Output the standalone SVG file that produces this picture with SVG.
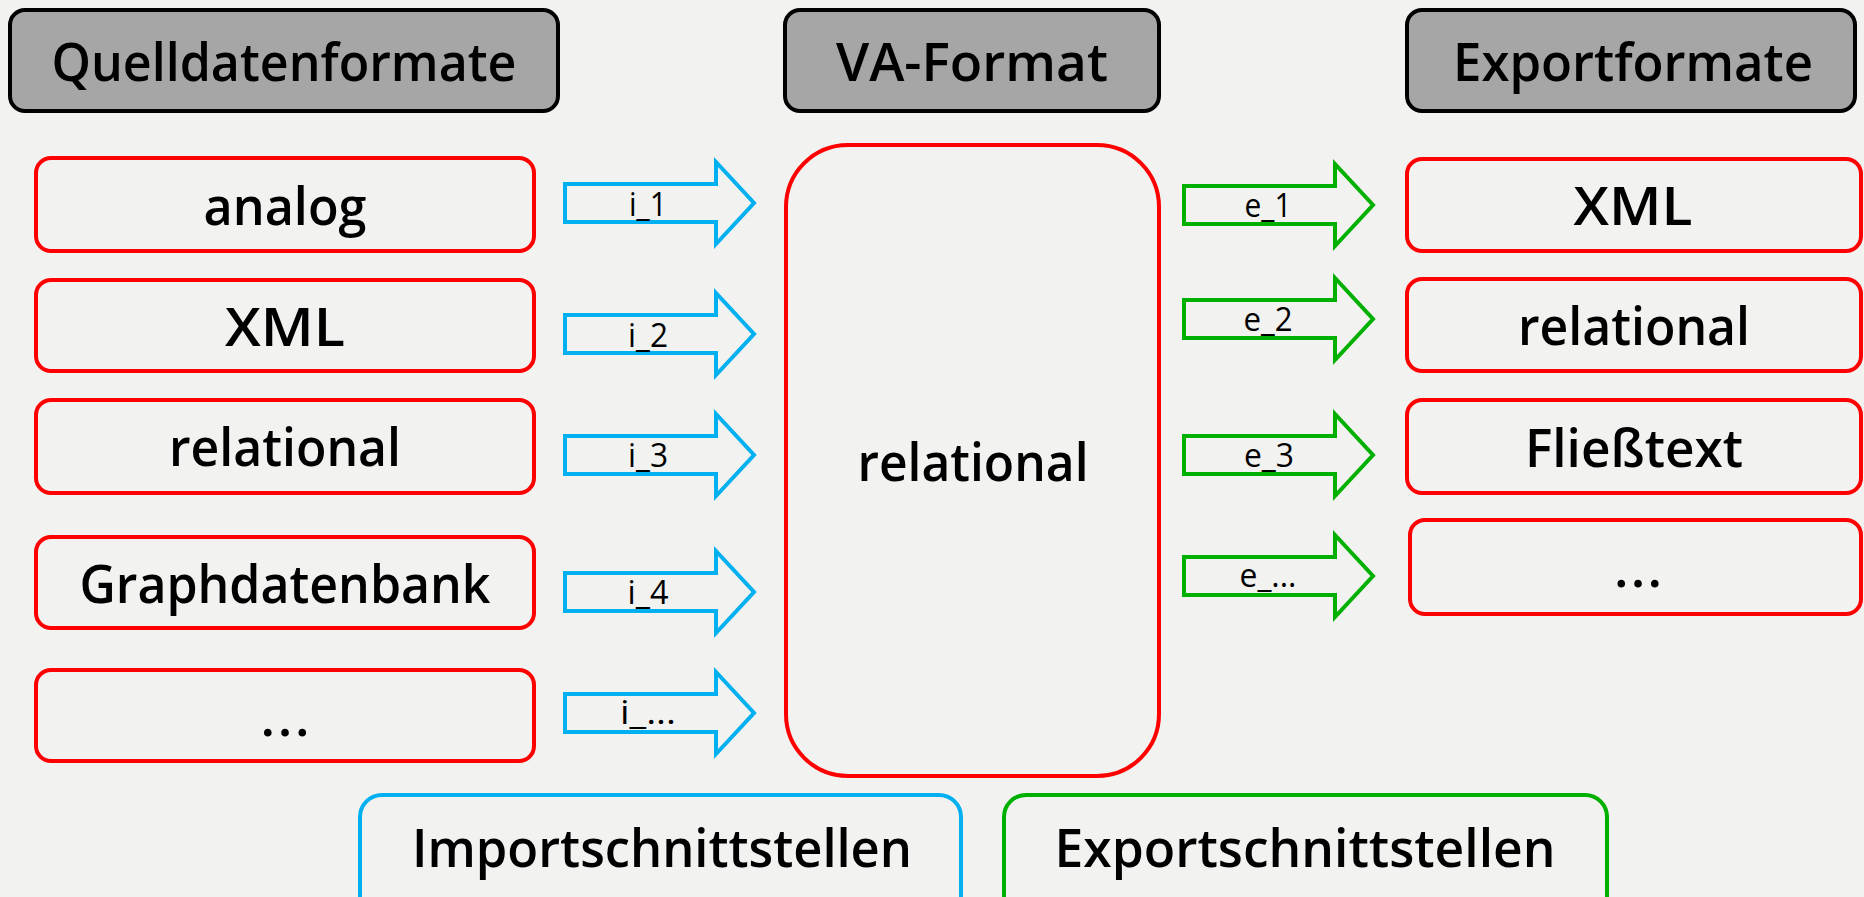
<svg xmlns="http://www.w3.org/2000/svg" width="1864" height="897" viewBox="0 0 1864 897">
  <defs>
    <style>
      .hdr { fill: #a6a6a6; stroke: #000000; stroke-width: 4; }
      .node { fill: #f2f2f0; stroke: #ff0000; stroke-width: 4; }
      .imp { fill: #f2f2f0; stroke: #00b0f0; stroke-width: 4; }
      .exp { fill: #f2f2f0; stroke: #00b000; stroke-width: 4; }
      .t { font-family: "Open Sans", "Noto Sans", "DejaVu Sans", sans-serif; font-weight: 600; font-size: 53px; fill: #000000; text-anchor: middle; }
      .lbl { font-family: "Open Sans", "Noto Sans", "DejaVu Sans", sans-serif; font-weight: 500; font-size: 33px; fill: #000000; text-anchor: middle; }
      .arrI { fill: none; stroke: #00b0f0; stroke-width: 4; }
      .arrE { fill: none; stroke: #00b000; stroke-width: 4; }
    </style>
    <path id="arrow" d="M0,-19 H151 V-41 L189,0 L151,41 V19 H0 Z"/>
  </defs>
  <rect x="0" y="0" width="1864" height="897" fill="#f2f2f0"/>

  <g id="hdr-quell">
    <rect class="hdr" x="10" y="10" width="548" height="101" rx="15"/>
    <text class="t" x="284" y="81" textLength="465" lengthAdjust="spacingAndGlyphs">Quelldatenformate</text>
  </g>
  <g id="hdr-va">
    <rect class="hdr" x="785" y="10" width="374" height="101" rx="15"/>
    <text class="t" x="972" y="81" textLength="272" lengthAdjust="spacingAndGlyphs">VA-Format</text>
  </g>
  <g id="hdr-export">
    <rect class="hdr" x="1407" y="10" width="448" height="101" rx="15"/>
    <text class="t" x="1633" y="81" textLength="360" lengthAdjust="spacingAndGlyphs">Exportformate</text>
  </g>

  <g id="src-analog">
    <rect class="node" x="36" y="158" width="498" height="93" rx="15"/>
    <text class="t" x="285" y="225" textLength="163" lengthAdjust="spacingAndGlyphs">analog</text>
  </g>
  <g id="src-xml">
    <rect class="node" x="36" y="280" width="498" height="91" rx="15"/>
    <text class="t" x="285" y="346" textLength="120" lengthAdjust="spacingAndGlyphs">XML</text>
  </g>
  <g id="src-relational">
    <rect class="node" x="36" y="400" width="498" height="93" rx="15"/>
    <text class="t" x="285" y="466" textLength="232" lengthAdjust="spacingAndGlyphs">relational</text>
  </g>
  <g id="src-graph">
    <rect class="node" x="36" y="537" width="498" height="91" rx="15"/>
    <text class="t" x="285" y="603" textLength="411" lengthAdjust="spacingAndGlyphs">Graphdatenbank</text>
  </g>
  <g id="src-more">
    <rect class="node" x="36" y="670" width="498" height="91" rx="15"/>
    <text class="t" x="285" y="736" textLength="49" lengthAdjust="spacing">...</text>
  </g>

  <g id="va-relational">
    <rect class="node" x="786" y="145" width="373" height="631" rx="62"/>
    <text class="t" x="973" y="481" textLength="231" lengthAdjust="spacingAndGlyphs">relational</text>
  </g>

  <g id="exp-xml">
    <rect class="node" x="1407" y="159" width="454" height="92" rx="15"/>
    <text class="t" x="1633" y="225" textLength="119" lengthAdjust="spacingAndGlyphs">XML</text>
  </g>
  <g id="exp-relational">
    <rect class="node" x="1407" y="279" width="454" height="92" rx="15"/>
    <text class="t" x="1634" y="345" textLength="232" lengthAdjust="spacingAndGlyphs">relational</text>
  </g>
  <g id="exp-fliesstext">
    <rect class="node" x="1407" y="400" width="454" height="93" rx="15"/>
    <text class="t" x="1634" y="467" textLength="218" lengthAdjust="spacingAndGlyphs">Fließtext</text>
  </g>
  <g id="exp-more">
    <rect class="node" x="1410" y="520" width="451" height="94" rx="15"/>
    <text class="t" x="1638" y="587" textLength="48" lengthAdjust="spacing">...</text>
  </g>

  <g id="connectors">
    <use href="#arrow" class="arrI" transform="translate(565,203)"/>
    <text class="lbl" x="648" y="216" textLength="38" lengthAdjust="spacingAndGlyphs">i_1</text>
    <use href="#arrow" class="arrI" transform="translate(565,334)"/>
    <text class="lbl" x="648" y="347" textLength="40" lengthAdjust="spacingAndGlyphs">i_2</text>
    <use href="#arrow" class="arrI" transform="translate(565,455)"/>
    <text class="lbl" x="648" y="467" textLength="40" lengthAdjust="spacingAndGlyphs">i_3</text>
    <use href="#arrow" class="arrI" transform="translate(565,592)"/>
    <text class="lbl" x="648" y="604" textLength="41" lengthAdjust="spacingAndGlyphs">i_4</text>
    <use href="#arrow" class="arrI" transform="translate(565,713)"/>
    <text class="lbl" x="648" y="724" textLength="56" lengthAdjust="spacingAndGlyphs">i_...</text>

    <use href="#arrow" class="arrE" transform="translate(1184,205)"/>
    <text class="lbl" x="1268" y="217" textLength="47" lengthAdjust="spacingAndGlyphs">e_1</text>
    <use href="#arrow" class="arrE" transform="translate(1184,319)"/>
    <text class="lbl" x="1268" y="331" textLength="49" lengthAdjust="spacingAndGlyphs">e_2</text>
    <use href="#arrow" class="arrE" transform="translate(1184,455)"/>
    <text class="lbl" x="1269" y="467" textLength="50" lengthAdjust="spacingAndGlyphs">e_3</text>
    <use href="#arrow" class="arrE" transform="translate(1184,576)"/>
    <text class="lbl" x="1268" y="587" textLength="57" lengthAdjust="spacingAndGlyphs">e_...</text>
  </g>

  <g id="legend-import">
    <rect class="imp" x="360" y="795" width="601" height="130" rx="22"/>
    <text class="t" x="662" y="867" textLength="500" lengthAdjust="spacingAndGlyphs">Importschnittstellen</text>
  </g>
  <g id="legend-export">
    <rect class="exp" x="1004" y="795" width="603" height="130" rx="22"/>
    <text class="t" x="1305" y="867" textLength="501" lengthAdjust="spacingAndGlyphs">Exportschnittstellen</text>
  </g>
</svg>
